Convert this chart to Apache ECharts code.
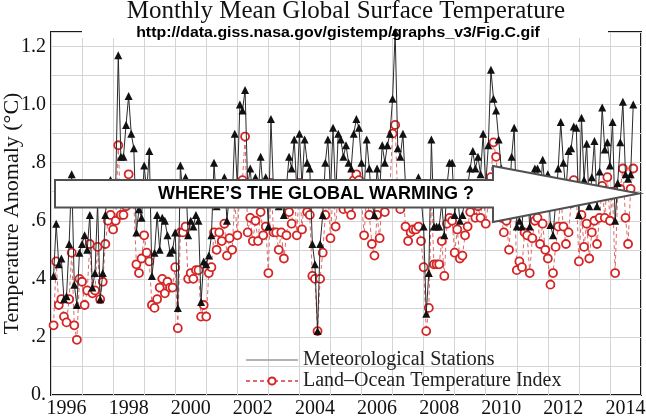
<!DOCTYPE html>
<html><head><meta charset="utf-8">
<script src="https://cdn.jsdelivr.net/npm/echarts@6/dist/echarts.min.js"></script>
<style>html,body{margin:0;padding:0;background:#fff}#c{width:646px;height:417px}</style>
</head><body><div id="c"></div>
<script>
const startYear = 1996;
// Land-Ocean Temperature Index, monthly from Jan 1996 to Sep 2014
const loti = [
  .24,.46,.31,.33,.27,.25,.33,.49,.24,.19,.40,.39,
  .31,.36,.52,.35,.36,.51,.33,.39,.52,.60,.62,.57,
  .60,.86,.62,.62,.65,.76,.68,.66,.45,.42,.47,.55,
  .49,.46,.31,.30,.33,.37,.40,.35,.39,.37,.37,.44,
  .23,.56,.56,.58,.40,.42,.40,.43,.43,.27,.31,.27,
  .42,.44,.56,.50,.56,.53,.59,.48,.54,.50,.67,.55,
  .71,.74,.89,.56,.61,.53,.60,.53,.63,.55,.58,.42,
  .73,.56,.56,.50,.56,.47,.55,.63,.59,.71,.55,.73,
  .57,.70,.63,.62,.41,.40,.22,.40,.49,.62,.71,.54,
  .71,.58,.70,.70,.64,.70,.64,.62,.74,.76,.74,.67,
  .55,.70,.62,.52,.48,.62,.54,.69,.63,.69,.72,.90,
  .93,.67,.64,.71,.58,.53,.56,.57,.57,.58,.53,.44,
  .22,.30,.68,.45,.45,.45,.53,.41,.59,.61,.60,.49,
  .57,.47,.48,.55,.58,.63,.67,.61,.65,.61,.70,.59,
  .66,.75,.87,.82,.70,.61,.56,.60,.50,.64,.72,.43,
  .46,.44,.56,.55,.42,.54,.60,.61,.52,.59,.50,.47,
  .38,.42,.51,.58,.68,.58,.52,.56,.66,.74,.70,.46,
  .62,.51,.59,.47,.56,.60,.52,.61,.72,.61,.75,.60,
  .70,.42,.70,.71,.78,.61,.52,.71,.78
];
// Meteorological Stations, monthly from Jan 1996 to Sep 2014
const metStations = [
  .41,.59,.45,.47,.33,.34,.52,.76,.38,.31,.49,.52,
  .55,.50,.62,.37,.42,.66,.33,.42,.62,.72,.74,.68,
  .72,1.17,.82,.82,.93,1.03,.90,.85,.56,.64,.61,.79,
  .70,.84,.41,.49,.62,.50,.61,.60,.55,.49,.50,.56,
  .30,.79,.68,.75,.55,.60,.58,.62,.60,.32,.46,.45,
  .48,.55,.80,.65,.72,.66,.75,.60,.70,.66,.90,.72,
  1.00,.98,1.05,.72,.78,.66,.75,.68,.82,.70,.75,.58,
  .95,.70,.72,.65,.72,.62,.72,.82,.78,.88,.70,.90,
  .72,.88,.80,.78,.52,.45,.22,.52,.62,.80,.88,.70,
  .92,.68,.90,.88,.82,.86,.80,.78,.90,.95,.92,.80,
  .70,.88,.78,.66,.62,.78,.70,.86,.80,.86,.90,1.02,
  1.25,.85,.82,.90,.72,.66,.70,.72,.72,.75,.68,.58,
  .28,.42,.88,.58,.58,.58,.66,.55,.72,.80,.80,.62,
  .70,.60,.62,.68,.72,.78,.84,.78,.82,.76,.90,.72,
  .86,1.12,1.02,.98,.88,.78,.72,.76,.66,.82,.92,.58,
  .60,.58,.72,.72,.58,.70,.78,.78,.68,.81,.70,.76,
  .585,.55,.66,.78,.94,.80,.70,.84,.85,.925,.92,.62,
  .955,.74,.865,.65,.75,.875,.65,.77,.99,.845,.87,.79,
  .94,.60,.73,.87,1.01,.76,.745,.76,1.00
];
const xTickYears = [1996,1998,2000,2002,2004,2006,2008,2010,2012,2014];
const yTickValues = [0,0.2,0.4,0.6,0.8,1.0,1.2];
const yTickLabels = ['0.','.2','.4','.6','.8','1.0','1.2'];
const seriesNames = ['Meteorological Stations','Land\u2013Ocean Temperature Index'];
const titleText = 'Monthly Mean Global Surface Temperature';
const subtitleText = 'http://data.giss.nasa.gov/gistemp/graphs_v3/Fig.C.gif';
const arrowText = 'WHERE\u2019S THE GLOBAL WARMING ?';

const toPoints = arr => arr.map((v, i) => [startYear + (i + 1) / 12, v]);

const serif = '"Liberation Serif", "DejaVu Serif", serif';
const chart = echarts.init(document.getElementById('c'));
chart.setOption({
  animation: false,
  backgroundColor: '#fff',
  grid: { left: 51, right: 5, top: 32, bottom: 22, show: true, borderColor: '#1a1a1a', borderWidth: 2,
    backgroundColor: 'transparent', containLabel: false, outerBoundsMode: 'none' },
  xAxis: [
    { type: 'value', min: 1996, max: 2015, interval: 1,
      axisLine: { show: false }, axisTick: { show: false }, axisLabel: { show: false },
      splitLine: { show: true, lineStyle: { color: '#d4d4d4', width: 1 } } },
    { type: 'value', min: 1996, max: 2015, position: 'bottom',
      axisLine: { show: false }, axisTick: { show: false }, splitLine: { show: false },
      axisLabel: { show: true, customValues: xTickYears.map(y => y + 0.5),
        formatter: v => String(Math.floor(v)), fontFamily: serif, fontSize: 20, color: '#111', margin: 4 } }
  ],
  yAxis: {
    type: 'value', min: 0, max: 1.25, interval: 0.1,
    name: 'Temperature Anomaly (\u00B0C)', nameLocation: 'middle', nameGap: 28, nameMoveOverlap: false,
    nameTextStyle: { fontFamily: serif, fontSize: 22, color: '#111' },
    axisLine: { show: false }, axisTick: { show: false },
    splitLine: { show: true, lineStyle: { color: '#d4d4d4', width: 1 } },
    axisLabel: { fontFamily: serif, fontSize: 20, color: '#111', margin: 5,
      formatter: v => { const i = yTickValues.findIndex(t => Math.abs(t - v) < 1e-6); return i >= 0 ? yTickLabels[i] : ''; } }
  },
  legend: {
    orient: 'vertical', left: 240, top: 345, itemWidth: 52, itemHeight: 9, itemGap: 1,
    selectedMode: false,
    textStyle: { fontFamily: serif, fontSize: 20, color: '#222', lineHeight: 20 },
    data: [
      { name: seriesNames[0], itemStyle: { opacity: 0 }, lineStyle: { color: '#9a9a9a', width: 1.5 } },
      { name: seriesNames[1] }
    ]
  },
  series: [
    { name: seriesNames[1], type: 'line', data: toPoints(loti), xAxisIndex: 0,
      symbol: 'circle', symbolSize: 8, z: 3,
      lineStyle: { color: '#dc6a6a', width: 1, type: [4, 3] },
      itemStyle: { color: '#fff', borderColor: '#d42424', borderWidth: 1.8 } },
    { name: seriesNames[0], type: 'line', data: toPoints(metStations), xAxisIndex: 0,
      symbol: 'triangle', symbolSize: 8, z: 4, clip: false,
      lineStyle: { color: '#2a2a2a', width: 1 },
      itemStyle: { color: '#111' } }
  ],
  graphic: [
    { type: 'rect', z: 1, shape: { x: 82, y: 24, width: 526, height: 14 }, style: { fill: '#fff' } },
    { type: 'text', z: 1, x: 346, y: -1, style: { text: titleText, font: '25px "Liberation Serif"', fill: '#111', textAlign: 'center', textVerticalAlign: 'top' } },
    { type: 'text', z: 5, x: 338, y: 33, scaleX: 1.06, style: { text: subtitleText, font: 'bold 15px "Liberation Sans"', fill: '#000', textAlign: 'center', textVerticalAlign: 'middle' } },
    { type: 'polygon', z: 20, shape: { points: [[55,180],[493,180],[493,166],[639,193.5],[493,222],[493,207.5],[55,207.5]] },
      style: { fill: '#fff', stroke: '#505050', lineWidth: 2 } },
    { type: 'text', z: 21, x: 316, y: 194, style: { text: arrowText, font: 'bold 18px "Liberation Sans"', fill: '#000', textAlign: 'center', textVerticalAlign: 'middle' } }
  ]
});
</script>
</body></html>
